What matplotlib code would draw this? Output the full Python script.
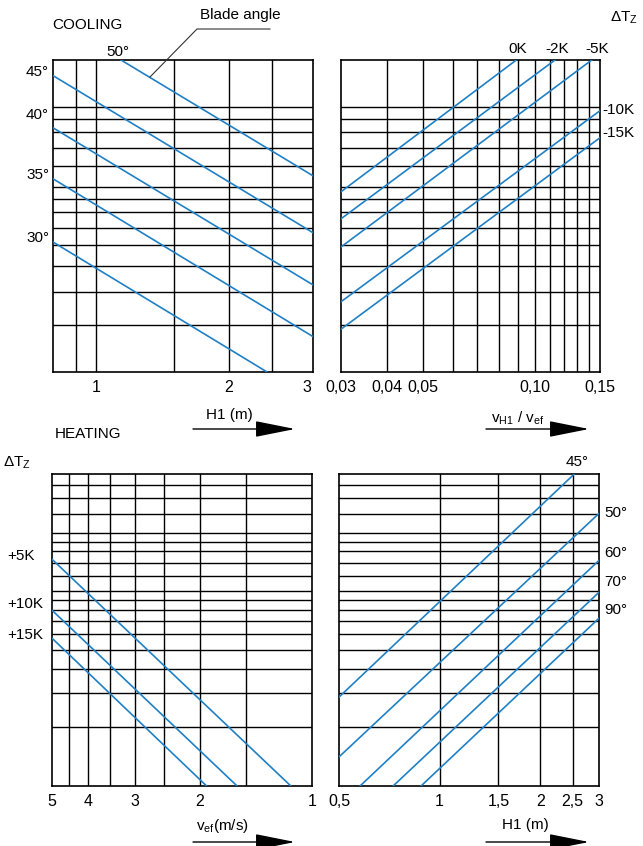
import numpy as np
import matplotlib.pyplot as plt
from matplotlib.lines import Line2D

plt.rcParams['font.family'] = ['Liberation Sans', 'DejaVu Sans']
plt.rcParams['mathtext.fontset'] = 'custom'
plt.rcParams['mathtext.rm'] = 'Liberation Sans'

BLUE = '#1f80c6'
W, H = 643, 846

# ---- data ----
# shared y grids (arbitrary log units, no labels)
cool_y_lim = (1, 15)
cool_y_grid = [1.5, 2, 2.5, 3, 3.5, 4, 4.5, 5, 6, 7, 8, 9, 10]
heat_y_lim = (1, 40)
heat_y_grid = [2, 3, 4, 5, 6, 7, 8, 9, 10, 12, 14, 16, 18, 20, 25, 30, 35]

# cooling, H1 (m) vs blade angle
h1c_lim = (0.8, 3.1)
h1c_grid = [0.9, 1, 1.5, 2, 2.5]
h1c_ticks = [1, 2, 3]
h1c_ticklabels = ['1', '2', '3']
blade_cool = ['50°', '45°', '40°', '35°', '30°']
blade_cool_x = [[1.14, 3.1], [0.8, 3.1], [0.8, 3.1], [0.8, 3.1], [0.8, 2.44]]
blade_cool_y = [[15, 5.49], [13.1, 3.35], [8.33, 2.13], [5.35, 1.36], [3.09, 1]]

# cooling, vH1/vef vs dTz
ratio_lim = (0.03, 0.15)
ratio_grid = [0.04, 0.05, 0.06, 0.07, 0.08, 0.09, 0.10, 0.11, 0.12, 0.13, 0.14]
ratio_ticks = [0.03, 0.04, 0.05, 0.10, 0.15]
ratio_ticklabels = ['0,03', '0,04', '0,05', '0,10', '0,15']
dtz_cool = ['0K', '-2K', '-5K', '-10K', '-15K']
dtz_cool_x = [[0.03, 0.0892], [0.03, 0.1134], [0.03, 0.1425], [0.03, 0.15], [0.03, 0.15]]
dtz_cool_y = [[4.78, 15], [3.78, 15], [2.96, 15], [1.84, 9.66], [1.45, 7.64]]

# heating, vef (m/s) vs dTz
vef_lim = (5, 1)
vef_grid = [4.5, 4, 3.5, 3, 2.5, 2, 1.5]
vef_ticks = [5, 4, 3, 2, 1]
vef_ticklabels = ['5', '4', '3', '2', '1']
dtz_heat = ['+5K', '+10K', '+15K']
dtz_heat_x = [[5, 1.14], [5, 1.59], [5, 1.92]]
dtz_heat_y = [[14.6, 1], [7.99, 1], [5.74, 1]]

# heating, H1 (m) vs blade angle
h1h_lim = (0.5, 3.0)
h1h_grid = [1, 1.5, 2, 2.5]
h1h_ticks = [0.5, 1, 1.5, 2, 2.5, 3]
h1h_ticklabels = ['0,5', '1', '1,5', '2', '2,5', '3']
blade_heat = ['45°', '50°', '60°', '70°', '90°']
blade_heat_x = [[0.5, 2.53], [0.5, 3.0], [0.578, 3.0], [0.726, 3.0], [0.88, 3.0]]
blade_heat_y = [[2.86, 40], [1.41, 25.1], [1, 14.4], [1, 9.88], [1, 7.27]]


def fx(x):
    return x / W


def fy(y):
    return 1 - y / H


def panel(rect, xlim, ylim, xgrid, ygrid, ticks, ticklabels, xs, ys):
    ax = fig.add_axes(rect)
    ax.set_xscale('log')
    ax.set_yscale('log')
    ax.set_xlim(*xlim)
    ax.set_ylim(*ylim)
    for g in xgrid:
        ax.axvline(g, color='black', lw=1.0, zorder=1)
    for g in ygrid:
        ax.axhline(g, color='black', lw=1.0, zorder=1)
    for x, y in zip(xs, ys):
        ax.plot(x, y, color=BLUE, lw=1.2, zorder=3)
    ax.set_xticks(ticks)
    ax.set_xticklabels(ticklabels)
    ax.xaxis.set_minor_locator(plt.NullLocator())
    ax.yaxis.set_major_locator(plt.NullLocator())
    ax.yaxis.set_minor_locator(plt.NullLocator())
    ax.tick_params(axis='x', length=0, pad=6, labelsize=11.5)
    for s in ax.spines.values():
        s.set_linewidth(1.2)
    return ax


fig = plt.figure(figsize=(W / 100, H / 100), dpi=100)

top_b, bot_b, ph = fy(372), fy(786), 312 / H
ax1 = panel([fx(53), top_b, 260 / W, ph], h1c_lim, cool_y_lim, h1c_grid, cool_y_grid,
            h1c_ticks, h1c_ticklabels, blade_cool_x, blade_cool_y)
ax2 = panel([fx(341), top_b, 259 / W, ph], ratio_lim, cool_y_lim, ratio_grid, cool_y_grid,
            ratio_ticks, ratio_ticklabels, dtz_cool_x, dtz_cool_y)
ax3 = panel([fx(52), bot_b, 260 / W, ph], vef_lim, heat_y_lim, vef_grid, heat_y_grid,
            vef_ticks, vef_ticklabels, dtz_heat_x, dtz_heat_y)
ax4 = panel([fx(339), bot_b, 260 / W, ph], h1h_lim, heat_y_lim, h1h_grid, heat_y_grid,
            h1h_ticks, h1h_ticklabels, blade_heat_x, blade_heat_y)

fs = 11
# cooling labels
fig.text(fx(52), fy(25), 'COOLING', fontsize=fs, va='center')
fig.text(fx(200), fy(15), 'Blade angle', fontsize=fs, va='center')
fig.add_artist(Line2D([fx(150), fx(197), fx(270)], [fy(77), fy(29), fy(29)],
                      color='#333333', lw=0.8))
fig.text(fx(118), fy(52), blade_cool[0], fontsize=fs, ha='center', va='center')
for lab, y in zip(blade_cool[1:], [72, 115, 175, 238]):
    fig.text(fx(49), fy(y), lab, fontsize=fs, ha='right', va='center')

fig.text(fx(610), fy(18), 'ΔT$_\\mathrm{Z}$', fontsize=fs, va='center')
for lab, x in zip(dtz_cool[:3], [518, 557, 597]):
    fig.text(fx(x), fy(49), lab, fontsize=fs, ha='center', va='center')
for lab, y in zip(dtz_cool[3:], [110, 133]):
    fig.text(fx(602), fy(y), lab, fontsize=fs, va='center')

# heating labels
fig.text(fx(55), fy(434), 'HEATING', fontsize=fs, va='center')
fig.text(fx(3), fy(463), 'ΔT$_\\mathrm{Z}$', fontsize=fs, va='center')
for lab, y in zip(dtz_heat, [556, 604, 635]):
    fig.text(fx(7), fy(y), lab, fontsize=fs, va='center')
fig.text(fx(577), fy(462), blade_heat[0], fontsize=fs, ha='center', va='center')
for lab, y in zip(blade_heat[1:], [513, 553, 582, 610]):
    fig.text(fx(604), fy(y), lab, fontsize=fs, va='center')

# axis titles with arrows
axis_titles = [('H1 (m)', 229, 415, 193, 295, 429),
               ('v$_\\mathrm{H1}$ / v$_\\mathrm{ef}$', 518, 418, 486, 589, 429),
               ('v$_\\mathrm{ef}$(m/s)', 222, 826, 193, 295, 842),
               ('H1 (m)', 525, 825, 486, 589, 842)]
for txt, tx, ty, x0, x1, ya in axis_titles:
    fig.text(fx(tx), fy(ty), txt, fontsize=fs, ha='center', va='center')
    fig.add_artist(plt.Annotation('', xy=(fx(x1), fy(ya)), xytext=(fx(x0), fy(ya)),
                                  xycoords='figure fraction',
                                  arrowprops=dict(arrowstyle='-|>,head_length=1.25,head_width=0.25',
                                                  color='black', lw=1.0,
                                                  mutation_scale=20, shrinkA=0, shrinkB=0)))

fig.savefig('out.png', dpi=100)
